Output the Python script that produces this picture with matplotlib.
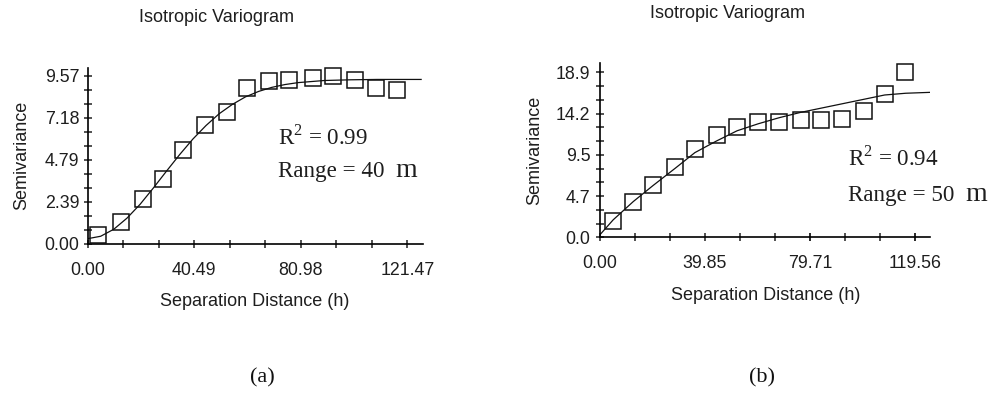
import matplotlib
matplotlib.use("Agg")
import matplotlib.pyplot as plt
from matplotlib.ticker import MultipleLocator, FixedLocator, FixedFormatter

# panel (a) - experimental points
a_lag = [3.8, 12.65, 20.9, 28.8, 36.4, 44.7, 52.9, 60.7, 69.1, 76.4, 85.8, 93.4, 101.6, 109.5, 117.4]
a_gam = [0.51, 1.27, 2.54, 3.68, 5.32, 6.74, 7.48, 8.87, 9.25, 9.34, 9.44, 9.53, 9.34, 8.87, 8.77]
# panel (a) - fitted model
a_fit_x = [0, 5, 10, 15, 20, 25, 30, 35, 40, 45, 50, 55, 60, 65, 70, 75, 80, 90, 100, 110, 126.7]
a_fit_y = [0.30, 0.44, 0.84, 1.47, 2.26, 3.18, 4.14, 5.08, 5.96, 6.73, 7.40, 7.93, 8.36, 8.67,
           8.90, 9.06, 9.17, 9.29, 9.33, 9.35, 9.35]
a_xticks = [0.0, 40.49, 80.98, 121.47]
a_yticks = [0.0, 2.3925, 4.785, 7.1775, 9.57]
a_ylabels = ["0.00", "2.39", "4.79", "7.18", "9.57"]

# panel (b)
b_lag = [5.06, 12.65, 20.2, 28.5, 36.1, 44.3, 52.1, 60.1, 68.1, 76.3, 83.7, 91.7, 100.2, 108.2, 115.7]
b_gam = [1.91, 4.09, 5.99, 8.02, 10.12, 11.72, 12.68, 13.25, 13.17, 13.44, 13.44, 13.55, 14.51, 16.42, 18.98]
b_fit_x = [0, 5, 12.65, 20, 28.5, 36, 44, 52, 60, 68, 76, 84, 92, 100, 108, 116, 125]
b_fit_y = [0.3, 2.0, 4.1, 5.9, 7.9, 9.7, 11.0, 12.2, 13.0, 13.7, 14.3, 14.8, 15.3, 15.8, 16.3, 16.5, 16.6]
b_xticks = [0.0, 39.85, 79.71, 119.56]
b_yticks = [0.0, 4.725, 9.45, 14.175, 18.9]
b_ylabels = ["0.0", "4.7", "9.5", "14.2", "18.9"]

plt.rcParams["mathtext.fontset"] = "custom"
plt.rcParams["mathtext.rm"] = "Liberation Serif"

W, H = 995, 399
fig = plt.figure(figsize=(W / 100, H / 100), dpi=100)

def px(x, y):
    return x / W, 1 - y / H

sans = "Liberation Sans"
serif = "Liberation Serif"
tcol = "#1e1e1e"

def setup(ax, xlim, ylim, xticks, yticks, ylabels, ypad):
    ax.set_xlim(*xlim)
    ax.set_ylim(*ylim)
    for s in ["top", "right"]:
        ax.spines[s].set_visible(False)
    for s in ["left", "bottom"]:
        ax.spines[s].set_linewidth(1.2)
    ax.xaxis.set_major_locator(FixedLocator(xticks))
    ax.xaxis.set_major_formatter(FixedFormatter(["%.2f" % t for t in xticks]))
    ax.xaxis.set_minor_locator(MultipleLocator(xticks[1] / 3))
    ax.yaxis.set_major_locator(FixedLocator(yticks))
    ax.yaxis.set_major_formatter(FixedFormatter(ylabels))
    ax.yaxis.set_minor_locator(MultipleLocator(yticks[1] / 3))
    ax.tick_params(which="both", direction="inout", length=6, width=1.1, color="#222222")
    ax.tick_params(axis="x", which="major", pad=10)
    ax.tick_params(axis="y", which="major", pad=ypad)
    for lab in ax.get_xticklabels() + ax.get_yticklabels():
        lab.set_fontfamily(sans)
        lab.set_fontsize(12.8)
        lab.set_color(tcol)
    ax.set_facecolor("none")

# ---- panel (a)
axa = fig.add_axes([87.5 / W, 1 - 244 / H, (422.7 - 87.5) / W, (244 - 68) / H])
axa.plot(a_fit_x, a_fit_y, color="#111111", lw=0.9, zorder=2)
axa.plot(a_lag, a_gam, ls="none", marker="s", ms=11, mfc="none", mec="#111111", mew=1.1,
         zorder=3, clip_on=False)
setup(axa, (0, 127.3), (0, 10.0), a_xticks, a_yticks, a_ylabels, 3)

# ---- panel (b)
axb = fig.add_axes([600 / W, 1 - 237.3 / H, 330 / W, (237.3 - 63.3) / H])
axb.plot(b_fit_x, b_fit_y, color="#111111", lw=0.9, zorder=2)
axb.plot(b_lag, b_gam, ls="none", marker="s", ms=11, mfc="none", mec="#111111", mew=1.1,
         zorder=3, clip_on=False)
setup(axb, (0, 125.2), (0, 19.93), b_xticks, b_yticks, b_ylabels, 4)

# titles and axis labels
lab_kw = dict(fontfamily=sans, fontsize=13, color=tcol, ha="center", va="center")
fig.text(*px(216.7, 17), "Isotropic Variogram", **lab_kw)
fig.text(*px(727.5, 14), "Isotropic Variogram", **lab_kw)
fig.text(*px(255, 301.5), "Separation Distance (h)", **lab_kw)
fig.text(*px(765.8, 295), "Separation Distance (h)", **lab_kw)
fig.text(*px(21.7, 155), "Semivariance", rotation=90, **lab_kw)
fig.text(*px(535, 150), "Semivariance", rotation=90, **lab_kw)

# annotations
ann_kw = dict(fontfamily=serif, fontsize=16.6, color=tcol, ha="left", va="baseline")
fig.text(*px(278, 145), r"R$^{\mathrm{2}}$ = 0.99", **ann_kw)
fig.text(*px(278, 177), "Range = 40", **ann_kw)
fig.text(*px(395, 177), "m", fontfamily=serif, fontsize=20, color=tcol, ha="left", va="baseline")
fig.text(*px(848, 166), r"R$^{\mathrm{2}}$ = 0.94", **ann_kw)
fig.text(*px(848, 201), "Range = 50", **ann_kw)
fig.text(*px(965, 201), "m", fontfamily=serif, fontsize=20, color=tcol, ha="left", va="baseline")

# panel captions
cap_kw = dict(fontfamily=serif, fontsize=16, color="#111111", ha="center", va="center")
fig.text(*px(262.5, 378), "(a)", **cap_kw)
fig.text(*px(761.7, 378), "(b)", **cap_kw)

fig.savefig("out.png", dpi=100)
